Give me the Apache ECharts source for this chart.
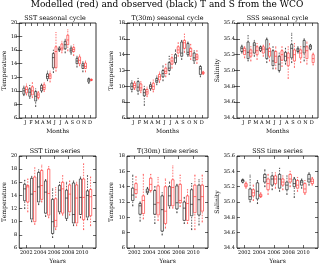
<!DOCTYPE html>
<html><head><meta charset="utf-8">
<script src="https://cdn.jsdelivr.net/npm/echarts@6/dist/echarts.min.js"></script>
<style>html,body{margin:0;padding:0;background:#fff}#c{width:320px;height:265px}</style>
</head><body><div id="c"></div><script>
// ---- data ----
const months = ['J','F','M','A','M','J','J','A','S','O','N','D'];
const years = [2002,2003,2004,2005,2006,2007,2008,2009,2010,2011];
const yearTicks = [2002,2004,2006,2008,2010];
const mainTitle = 'Modelled (red) and observed (black) T and S from the WCO';
const panelTitles = ['SST seasonal cycle','T(30m) seasonal cycle','SSS seasonal cycle','SST time series','T(30m) time series','SSS time series'];
// each row: [low whisker, q1, median, q3, high whisker]
const sstSeasObs = [[9.3,9.5,10.0,10.4,10.7],[8.9,9.2,9.8,10.3,10.8],[7.7,8.5,9.2,9.9,10.3],[9.8,10.0,10.4,10.8,11.0],[11.5,11.8,12.1,12.5,12.9],[12.7,13.4,14.9,15.5,16.0],[15.8,16.0,16.1,16.3,16.5],[15.6,16.2,16.8,17.3,17.6],[15.4,15.7,16.0,16.3,16.6],[13.5,14.0,14.4,14.8,15.1],[12.8,13.3,13.7,14.0,14.3],[11.1,11.3,11.6,11.8,11.9]];
const sstSeasMod = [[9.4,9.7,10.2,10.6,11.0],[9.0,9.4,10.0,10.6,11.2],[8.8,9.0,9.4,9.7,9.9],[9.9,10.2,10.5,10.9,11.2],[11.3,11.8,12.2,12.5,12.9],[12.9,13.4,15.8,16.5,18.6],[15.6,16.0,16.3,16.9,17.3],[15.9,16.8,17.5,18.2,19.0],[15.2,15.8,16.1,16.4,16.8],[13.7,14.0,14.5,15.0,15.3],[12.8,13.3,13.6,14.1,14.4],[11.5,11.55,11.6,11.7,11.75]];
const t30SeasObs = [[9.3,9.6,10.0,10.4,10.7],[9.0,9.4,9.9,10.6,11.0],[7.6,8.8,9.2,9.6,10.0],[9.5,9.7,10.0,10.2,10.5],[10.2,10.5,10.7,11.0,11.3],[10.7,11.2,11.6,12.0,12.6],[11.5,12.0,12.3,13.0,13.8],[12.8,13.0,13.6,14.0,14.6],[13.4,13.8,14.2,15.6,15.8],[13.8,14.0,14.3,15.4,15.6],[12.9,13.2,13.6,14.2,14.5],[11.2,11.5,12.2,12.5,12.6]];
const t30SeasMod = [[9.6,9.8,10.1,10.4,10.6],[9.2,9.5,9.8,10.3,10.6],[8.7,9.0,9.3,9.6,9.9],[9.3,9.6,10.0,10.4,10.8],[10.5,10.8,11.2,11.5,11.8],[11.2,11.6,11.9,12.3,12.8],[12.3,12.8,13.2,13.6,14.0],[13.8,14.2,14.6,15.0,15.5],[14.3,14.8,15.5,15.8,16.6],[13.4,13.8,14.4,14.8,15.3],[12.9,13.4,13.7,14.0,14.5],[11.5,11.6,11.7,11.8,11.9]];
const sssSeasObs = [[35.22,35.24,35.28,35.30,35.32],[35.12,35.15,35.23,35.36,35.44],[35.18,35.22,35.32,35.35,35.38],[35.24,35.25,35.28,35.30,35.31],[35.10,35.15,35.27,35.39,35.41],[35.02,35.06,35.12,35.25,35.30],[34.98,35.00,35.08,35.18,35.22],[35.08,35.12,35.18,35.23,35.28],[35.10,35.16,35.28,35.33,35.47],[35.22,35.24,35.26,35.28,35.30],[35.12,35.22,35.30,35.38,35.40],[35.26,35.27,35.30,35.32,35.33]];
const sssSeasMod = [[35.16,35.20,35.25,35.28,35.30],[35.12,35.18,35.22,35.26,35.30],[35.14,35.20,35.25,35.30,35.34],[35.18,35.22,35.27,35.30,35.32],[35.12,35.18,35.24,35.28,35.34],[35.02,35.10,35.18,35.24,35.30],[35.05,35.13,35.20,35.25,35.30],[34.90,35.06,35.16,35.22,35.30],[35.04,35.12,35.20,35.26,35.34],[35.10,35.16,35.22,35.26,35.30],[35.08,35.15,35.25,35.30,35.36],[35.07,35.10,35.15,35.20,35.22]];
const sstYearObs = [[12.0,13.2,15.0,15.7,16.3],[10.0,10.4,14.2,16.6,16.9],[12.6,13.0,15.3,17.5,17.9],[10.8,11.3,14.5,16.2,16.4],[7.6,8.2,10.0,13.4,15.0],[11.2,11.5,14.8,15.5,16.0],[10.2,10.5,13.6,14.8,16.0],[9.4,9.8,11.1,15.9,16.2],[10.6,11.1,13.7,16.5,16.8],[10.3,10.7,14.0,14.7,17.0]];
const sstYearMod = [[11.5,13.0,15.3,15.5,16.5],[9.6,10.0,14.6,16.8,18.2],[13.0,13.4,15.5,17.8,18.6],[10.6,11.0,14.3,18.0,18.4],[8.8,9.2,10.2,13.5,15.2],[11.0,11.3,15.0,16.0,17.0],[11.0,11.5,14.2,15.6,16.2],[9.4,9.8,13.6,15.6,16.0],[8.8,10.3,13.7,16.5,18.8],[9.4,10.9,13.8,14.9,16.8]];
const t30YearObs = [[11.5,12.2,12.9,13.8,15.5],[9.5,10.4,11.5,11.8,12.0],[13.0,13.2,13.4,13.7,13.9],[9.2,10.4,11.7,13.5,14.0],[7.7,8.2,11.0,12.8,13.2],[11.2,11.5,12.8,14.0,14.6],[10.6,11.1,11.9,14.1,14.3],[9.2,9.6,11.2,12.0,12.6],[8.4,10.2,11.7,13.6,14.4],[9.0,10.3,12.3,14.2,14.9]];
const t30YearMod = [[12.6,13.1,13.6,14.4,15.3],[9.8,10.5,12.2,12.8,15.6],[13.3,13.5,14.3,15.1,15.6],[9.6,10.3,11.9,14.1,15.2],[8.6,9.2,10.8,14.0,15.0],[11.2,11.5,13.9,14.9,16.7],[11.4,11.9,12.2,14.3,15.5],[9.2,9.6,11.8,12.8,13.6],[8.4,10.6,12.7,14.2,15.5],[9.4,10.8,12.7,14.2,15.5]];
const sssYearObs = [[35.25,35.26,35.28,35.29,35.30],[35.00,35.03,35.07,35.17,35.35],[34.98,35.04,35.14,35.25,35.28],[35.20,35.26,35.32,35.36,35.42],[35.16,35.22,35.30,35.34,35.38],[35.14,35.18,35.30,35.36,35.44],[35.10,35.16,35.22,35.26,35.34],[35.06,35.20,35.24,35.30,35.32],[35.18,35.22,35.26,35.28,35.30],[35.22,35.26,35.30,35.36,35.38]];
const sssYearMod = [[35.18,35.20,35.22,35.24,35.26],[35.02,35.08,35.12,35.16,35.22],[35.06,35.07,35.08,35.10,35.12],[35.10,35.16,35.24,35.30,35.36],[35.18,35.24,35.30,35.34,35.38],[35.16,35.22,35.26,35.30,35.34],[35.20,35.26,35.30,35.36,35.40],[35.14,35.18,35.22,35.28,35.32],[35.10,35.12,35.17,35.24,35.28],[35.22,35.24,35.27,35.30,35.32]];

// ---- layout ----
const FONT = 'DejaVu Serif';
const cols = [{left:14,width:82},{left:127,width:81},{left:237,width:81}];
const rows = [{top:23,height:95},{top:156,height:95}];
const BOXW = 0.33, OFF = 0.22;

const panels = [
  {obs:sstSeasObs, mod:sstSeasMod, seasonal:true, yMin:6, yMax:20, yInt:2, yName:'Temperature', gap:10, dec:0},
  {obs:t30SeasObs, mod:t30SeasMod, seasonal:true, yMin:6, yMax:18, yInt:2, yName:'Temperature', gap:11, dec:0},
  {obs:sssSeasObs, mod:sssSeasMod, seasonal:true, yMin:34.4, yMax:35.6, yInt:0.2, yName:'Salinity', gap:17, dec:1},
  {obs:sstYearObs, mod:sstYearMod, seasonal:false, yMin:6, yMax:20, yInt:2, yName:'Temperature', gap:10, dec:0},
  {obs:t30YearObs, mod:t30YearMod, seasonal:false, yMin:6, yMax:18, yInt:2, yName:'Temperature', gap:11, dec:0},
  {obs:sssYearObs, mod:sssYearMod, seasonal:false, yMin:34.4, yMax:35.6, yInt:0.2, yName:'Salinity', gap:17, dec:1}
];

function makeRender(color, offset){
  return function(params, api){
    const x = api.value(0) + offset;
    const p = [1,2,3,4,5].map(i => api.coord([x, api.value(i)]));
    const w = api.size([BOXW, 0])[0];
    const cx = p[0][0];
    const ls = {stroke:color, lineWidth:0.6, fill:'none'};
    const dash = {stroke:color, lineWidth:0.6, fill:'none', lineDash:[1.6,1.2]};
    return {type:'group', children:[
      {type:'line', shape:{x1:cx,y1:p[0][1],x2:cx,y2:p[1][1]}, style:dash},
      {type:'line', shape:{x1:cx,y1:p[3][1],x2:cx,y2:p[4][1]}, style:dash},
      {type:'line', shape:{x1:cx-w/4,y1:p[0][1],x2:cx+w/4,y2:p[0][1]}, style:ls},
      {type:'line', shape:{x1:cx-w/4,y1:p[4][1],x2:cx+w/4,y2:p[4][1]}, style:ls},
      {type:'rect', shape:{x:cx-w/2,y:p[3][1],width:w,height:p[1][1]-p[3][1]}, style:ls},
      {type:'line', shape:{x1:cx-w/2,y1:p[2][1],x2:cx+w/2,y2:p[2][1]}, style:ls}
    ]};
  };
}

const grid = [], xAxis = [], yAxis = [], series = [], graphic = [];
const tickStyle = {show:true, inside:true, length:3, lineStyle:{color:'#000', width:0.6}};
panels.forEach((pn, k) => {
  const r = rows[Math.floor(k/3)], c = cols[k%3];
  grid.push({left:c.left, top:r.top, width:c.width, height:r.height, show:true, borderColor:'#000', borderWidth:0.8, containLabel:false});
  const cats = pn.seasonal ? months.map((m,i)=>i+1) : years;
  const xMin = pn.seasonal ? 0 : 2001, xMax = pn.seasonal ? 13 : 2012;
  const ticks = pn.seasonal ? cats : yearTicks;
  const xlab = {show:true, customValues:ticks, fontFamily:FONT, fontSize:5, color:'#000', margin:2.5,
    formatter: v => pn.seasonal ? months[Math.round(v)-1] : String(Math.round(v))};
  xAxis.push({type:'value', gridIndex:k, min:xMin, max:xMax, position:'bottom',
    name: pn.seasonal ? 'Months' : 'Years', nameLocation:'middle', nameGap:10,
    nameTextStyle:{fontFamily:FONT, fontSize:6, color:'#000'},
    axisLine:{show:false}, splitLine:{show:false},
    axisTick:Object.assign({customValues:ticks}, tickStyle), axisLabel:xlab});
  xAxis.push({type:'value', gridIndex:k, min:xMin, max:xMax, position:'top',
    axisLine:{show:false}, splitLine:{show:false},
    axisTick:Object.assign({customValues:ticks}, tickStyle), axisLabel:{show:false}});
  yAxis.push({type:'value', gridIndex:k, min:pn.yMin, max:pn.yMax, interval:pn.yInt, position:'left',
    name:pn.yName, nameLocation:'middle', nameGap:pn.gap,
    nameTextStyle:{fontFamily:FONT, fontSize:6.1, color:'#000'},
    axisLine:{show:false}, splitLine:{show:false}, axisTick:tickStyle,
    axisLabel:{fontFamily:FONT, fontSize:5, color:'#000', margin:2, formatter: v => v.toFixed(pn.dec)}});
  yAxis.push({type:'value', gridIndex:k, min:pn.yMin, max:pn.yMax, interval:pn.yInt, position:'right',
    axisLine:{show:false}, splitLine:{show:false}, axisTick:tickStyle, axisLabel:{show:false}});
  [[pn.obs,'#000',-OFF],[pn.mod,'#ff2020',OFF]].forEach(([arr,color,off]) => {
    series.push({type:'custom', xAxisIndex:2*k, yAxisIndex:2*k, clip:false, silent:true,
      renderItem:makeRender(color, off), encode:{x:0, y:[1,2,3,4,5]},
      data: arr.map((d,i)=>[cats[i]].concat(d))});
  });
  graphic.push({type:'text', x:c.left + c.width/2, y:r.top - 4.5,
    style:{text:panelTitles[k], font:'6.4px "DejaVu Serif"', fill:'#000', textAlign:'center', textVerticalAlign:'middle'}});
});
graphic.push({type:'text', x:167, y:5,
  style:{text:mainTitle, font:'9px "DejaVu Serif"', fill:'#000', textAlign:'center', textVerticalAlign:'middle'}});

const chart = echarts.init(document.getElementById('c'));
chart.setOption({animation:false, backgroundColor:'#fff', grid, xAxis, yAxis, series, graphic});
</script></body></html>
